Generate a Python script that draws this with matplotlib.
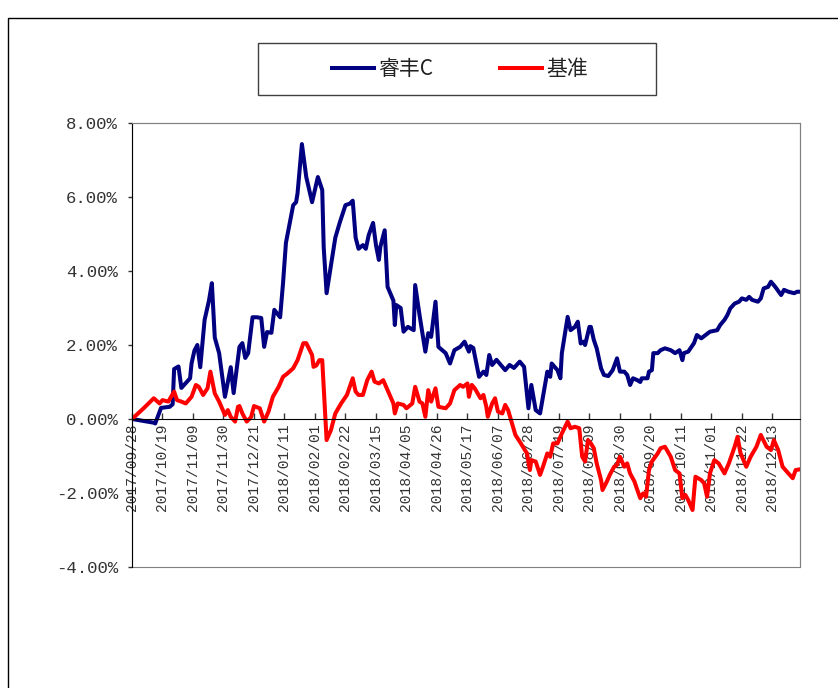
import numpy as np
import pandas as pd
import matplotlib
matplotlib.use('Agg')
import matplotlib.pyplot as plt
import matplotlib.dates as mdates
from matplotlib.patches import Rectangle

# values, day = days after 2017/09/28, values in %
start = pd.Timestamp('2017-09-28')

blue_day = [0, 15, 16, 20, 26, 28, 29, 32, 34, 40, 41, 43, 45, 47, 50, 53, 55, 57, 60, 64,
            68, 70, 74, 76, 78, 80, 83, 86, 89, 91, 93, 96, 98, 102, 104, 106, 111, 113, 114, 117,
            120, 124, 128, 131, 132, 134, 140, 143, 147, 150, 152, 154, 156, 159, 161, 163, 166, 168, 170, 171,
            174, 176, 180, 181, 182, 185, 187, 190, 194, 195, 198, 202, 204, 206, 209, 211, 216, 219, 222, 226,
            229, 232, 233, 235, 239, 242, 244, 246, 248, 251, 254, 257, 260, 263, 267, 270, 273, 275, 278, 281,
            286, 288, 289, 293, 295, 296, 300, 302, 305, 307, 309, 311, 312, 315, 316, 318, 320, 323, 325, 328,
            331, 334, 336, 339, 341, 343, 345, 348, 350, 351, 355, 356, 358, 359, 362, 364, 367, 371, 374, 377,
            378, 379, 380, 383, 387, 389, 392, 395, 398, 403, 405, 408, 410, 412, 415, 418, 420, 423, 425, 427,
            431, 433, 435, 438, 440, 443, 447, 449, 452, 456, 458, 460]
blue_val = [0.0, -0.1, -0.12, 0.3, 0.33, 0.4, 1.35, 1.42, 0.84, 1.1, 1.5, 1.85, 2.0, 1.4, 2.68, 3.2, 3.67, 2.2, 1.78, 0.6,
            1.4, 0.7, 1.95, 2.05, 1.65, 1.78, 2.75, 2.75, 2.73, 1.95, 2.35, 2.33, 2.95, 2.75, 3.67, 4.76, 5.78, 5.86, 6.1, 7.43,
            6.54, 5.86, 6.54, 6.19, 4.65, 3.4, 4.9, 5.3, 5.78, 5.82, 5.9, 4.9, 4.6, 4.7, 4.6, 4.97, 5.3, 4.7, 4.3, 4.65,
            5.1, 3.57, 3.2, 2.54, 3.08, 3.0, 2.36, 2.49, 2.4, 3.62, 2.81, 1.82, 2.32, 2.22, 3.17, 1.95, 1.78, 1.5, 1.86, 1.95,
            2.09, 1.82, 1.97, 1.92, 1.14, 1.28, 1.19, 1.73, 1.46, 1.6, 1.46, 1.32, 1.46, 1.38, 1.55, 1.41, 0.29, 0.92, 0.24, 0.15,
            1.28, 1.14, 1.5, 1.32, 1.1, 1.78, 2.76, 2.4, 2.49, 2.63, 2.04, 2.09, 2.0, 2.49, 2.49, 2.14, 1.91, 1.37, 1.19, 1.16,
            1.32, 1.64, 1.28, 1.28, 1.19, 0.92, 1.1, 1.05, 1.0, 1.1, 1.1, 1.28, 1.32, 1.78, 1.78, 1.86, 1.91, 1.86, 1.78, 1.86,
            1.73, 1.59, 1.78, 1.82, 2.05, 2.27, 2.18, 2.27, 2.36, 2.4, 2.54, 2.68, 2.81, 2.99, 3.12, 3.17, 3.26, 3.22, 3.3, 3.22,
            3.17, 3.26, 3.53, 3.57, 3.71, 3.57, 3.35, 3.49, 3.44, 3.4, 3.44, 3.44]

red_day = [0, 8, 15, 19, 21, 25, 29, 31, 34, 37, 41, 44, 46, 49, 52, 54, 57, 60, 64, 66,
           68, 71, 73, 74, 76, 79, 82, 84, 88, 91, 94, 97, 101, 104, 107, 111, 114, 118, 120, 124,
           125, 127, 129, 131, 132, 134, 137, 140, 144, 148, 152, 154, 156, 159, 162, 165, 167, 170, 173, 176,
           180, 181, 183, 187, 189, 193, 195, 198, 200, 202, 204, 206, 209, 211, 216, 219, 222, 226, 228, 231,
           232, 234, 236, 240, 242, 244, 245, 248, 250, 252, 255, 257, 259, 261, 264, 267, 272, 274, 275, 278,
           281, 283, 286, 288, 290, 293, 296, 300, 302, 305, 308, 310, 312, 314, 316, 318, 320, 323, 324, 327,
           329, 332, 334, 336, 339, 341, 343, 346, 348, 350, 352, 354, 356, 358, 362, 364, 367, 371, 374, 377,
           379, 381, 383, 386, 388, 392, 394, 396, 398, 401, 404, 408, 411, 415, 417, 419, 423, 426, 430, 433,
           437, 440, 442, 445, 448, 452, 455, 457, 460]
red_val = [0.0, 0.29, 0.56, 0.42, 0.51, 0.47, 0.74, 0.51, 0.47, 0.42, 0.6, 0.92, 0.87, 0.65, 0.83, 1.28, 0.69, 0.47, 0.11, 0.24,
           0.06, -0.07, 0.33, 0.35, 0.15, -0.07, 0.05, 0.35, 0.29, -0.07, 0.2, 0.6, 0.87, 1.14, 1.23, 1.37, 1.59, 2.05, 2.05, 1.73,
           1.41, 1.45, 1.59, 1.59, 0.87, -0.57, -0.3, 0.15, 0.42, 0.65, 1.1, 0.74, 0.65, 0.65, 1.05, 1.28, 1.01, 0.96, 1.05, 0.78,
           0.42, 0.15, 0.42, 0.38, 0.29, 0.42, 0.87, 0.47, 0.42, 0.06, 0.78, 0.47, 0.83, 0.33, 0.29, 0.42, 0.78, 0.92, 0.87, 0.96,
           0.6, 0.92, 0.83, 0.56, 0.65, 0.33, 0.06, 0.42, 0.56, 0.2, 0.15, 0.38, 0.24, -0.03, -0.43, -0.61, -0.93, -1.38, -1.11, -1.15,
           -1.51, -1.29, -0.93, -1.02, -0.66, -0.66, -0.39, -0.07, -0.25, -0.21, -0.25, -1.02, -1.15, -0.57, -0.66, -0.79, -1.2, -1.65, -1.92, -1.69,
           -1.51, -1.29, -1.24, -1.02, -1.29, -1.2, -1.47, -1.69, -1.92, -2.14, -2.01, -2.1, -1.38, -1.15, -0.93, -0.79, -0.75, -1.02, -1.38, -1.47,
           -2.14, -2.05, -2.19, -2.46, -1.56, -1.65, -1.74, -2.1, -1.47, -1.11, -1.2, -1.47, -1.2, -0.75, -0.48, -0.92, -1.29, -1.02, -0.75, -0.43,
           -0.75, -0.84, -0.57, -0.84, -1.29, -1.47, -1.6, -1.38, -1.36]

blue_dates = start + pd.to_timedelta(blue_day, unit='D')
red_dates = start + pd.to_timedelta(red_day, unit='D')

fig = plt.figure(figsize=(8.38, 6.88), dpi=100)
ax = fig.add_axes([132/838, 1-567/688, 668/838, 444/688])

ax.plot(blue_dates, blue_val, color='#000080', lw=2.9, label='睿丰C', solid_joinstyle='round')
ax.plot(red_dates, red_val, color='#FF0000', lw=2.9, label='基准', solid_joinstyle='round')

ax.set_ylim(-4, 8)
ax.set_yticks([-4, -2, 0, 2, 4, 6, 8])
ax.set_yticklabels(['%.2f%%' % v for v in [-4, -2, 0, 2, 4, 6, 8]])
ax.set_xlim(start, start + pd.Timedelta(days=460))
ax.set_xticks(pd.date_range('2017-09-28', '2018-12-13', freq='21D'))
ax.xaxis.set_major_formatter(mdates.DateFormatter('%Y/%m/%d'))

# category axis sits on the 0% line, ticks pointing up
ax.spines['bottom'].set_position(('data', 0))
ax.spines['bottom'].set_color('black')
ax.spines['left'].set_color('black')
ax.spines['top'].set_color('#808080')
ax.spines['right'].set_color('#808080')
ax.add_patch(Rectangle((0, 0), 1, 1, transform=ax.transAxes, fill=False, ec='#808080', lw=0.8, clip_on=False))
ax.tick_params(axis='x', direction='in', length=4.5, width=1, pad=3, colors='#333333',
               labelrotation=90, labelsize=10.5, labelfontfamily='Liberation Mono')
ax.tick_params(axis='y', direction='out', length=3, width=1, pad=7, colors='#333333',
               labelsize=12.5, labelfontfamily='Liberation Mono')

# legend box + outer chart border
leg = fig.legend(loc='center', bbox_to_anchor=(460/838, 1-69/688), ncol=2, frameon=False,
                 prop={'family': ['Noto Sans CJK SC', 'DejaVu Sans'], 'size': 15},
                 handlelength=2.0, handletextpad=0.2, columnspacing=3.2)
for t in leg.get_texts():
    t.set_color('#222222')
fig.patches.append(Rectangle((258/838, 1-95/688), 398/838, 52/688, transform=fig.transFigure,
                             fill=False, ec='#404040', lw=1))
fig.patches.append(Rectangle((8/838, -0.1), 1.2, 0.1 + 1-18/688, transform=fig.transFigure,
                             fill=False, ec='black', lw=1))

fig.savefig('out.png', dpi=100)
